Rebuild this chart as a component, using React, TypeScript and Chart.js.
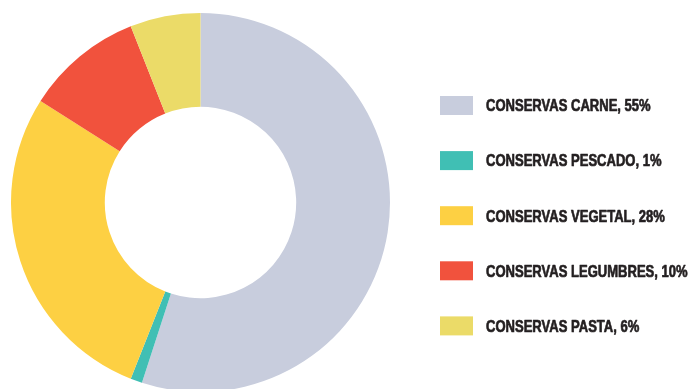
import React, { useEffect, useRef } from "react";
import { Chart, registerables } from "chart.js";

Chart.register(...registerables);

const categories = [
  "CONSERVAS CARNE",
  "CONSERVAS PESCADO",
  "CONSERVAS VEGETAL",
  "CONSERVAS LEGUMBRES",
  "CONSERVAS PASTA",
];
const values = [55, 1, 28, 10, 6];
const colors = ["#C8CDDD", "#40BFB4", "#FDD043", "#F1523D", "#EBDB68"];

// Legend drawn through a Chart.js plugin, reading the chart's own labels/data
const sideLegend = {
  id: "sideLegend",
  afterDraw(chart: any, _args: any, opts: any) {
    const ctx = chart.ctx as CanvasRenderingContext2D;
    const labels = chart.data.labels as string[];
    const ds = chart.data.datasets[0];
    ctx.save();
    labels.forEach((name, i) => {
      const top = opts.top + i * opts.step;
      ctx.fillStyle = ds.backgroundColor[i];
      ctx.fillRect(opts.left, top, opts.boxWidth, opts.boxHeight);
      ctx.save();
      ctx.translate(opts.textLeft, top + opts.baseline);
      ctx.scale(opts.squeeze, 1);
      ctx.font = `bold ${opts.fontSize}px 'Liberation Sans', Arial, sans-serif`;
      ctx.fillStyle = opts.color;
      ctx.strokeStyle = opts.color;
      ctx.lineWidth = opts.extraWeight;
      ctx.lineJoin = "round";
      ctx.textAlign = "left";
      ctx.textBaseline = "alphabetic";
      const text = `${name}, ${ds.data[i]}%`;
      ctx.fillText(text, 0, 0);
      ctx.strokeText(text, 0, 0);
      ctx.restore();
    });
    ctx.restore();
  },
};

export default function App() {
  const ref = useRef<HTMLCanvasElement | null>(null);

  useEffect(() => {
    if (!ref.current) return;
    const chart = new Chart(ref.current, {
      type: "doughnut",
      data: {
        labels: categories,
        datasets: [
          {
            data: values,
            backgroundColor: colors,
            borderWidth: 0,
            hoverOffset: 0,
          },
        ],
      },
      plugins: [sideLegend],
      options: {
        responsive: false,
        animation: false,
        cutout: "50.5%",
        radius: 189.5,
        layout: { padding: { left: 0, right: 293, top: 0, bottom: 0 } },
        plugins: {
          tooltip: { enabled: false },
          legend: { display: false },
          sideLegend: {
            left: 440,
            top: 96,
            step: 55.1,
            boxWidth: 33,
            boxHeight: 19,
            textLeft: 486,
            baseline: 15.3,
            fontSize: 16.5,
            squeeze: 0.79,
            extraWeight: 0.7,
            color: "#231F20",
          },
        } as any,
      },
    });
    return () => chart.destroy();
  }, []);

  return (
    <div
      style={{
        position: "fixed",
        left: 0,
        top: 0,
        width: 694,
        height: 389,
        overflow: "hidden",
        background: "#fff",
      }}
    >
      <canvas ref={ref} width={694} height={405} style={{ display: "block" }} />
    </div>
  );
}
